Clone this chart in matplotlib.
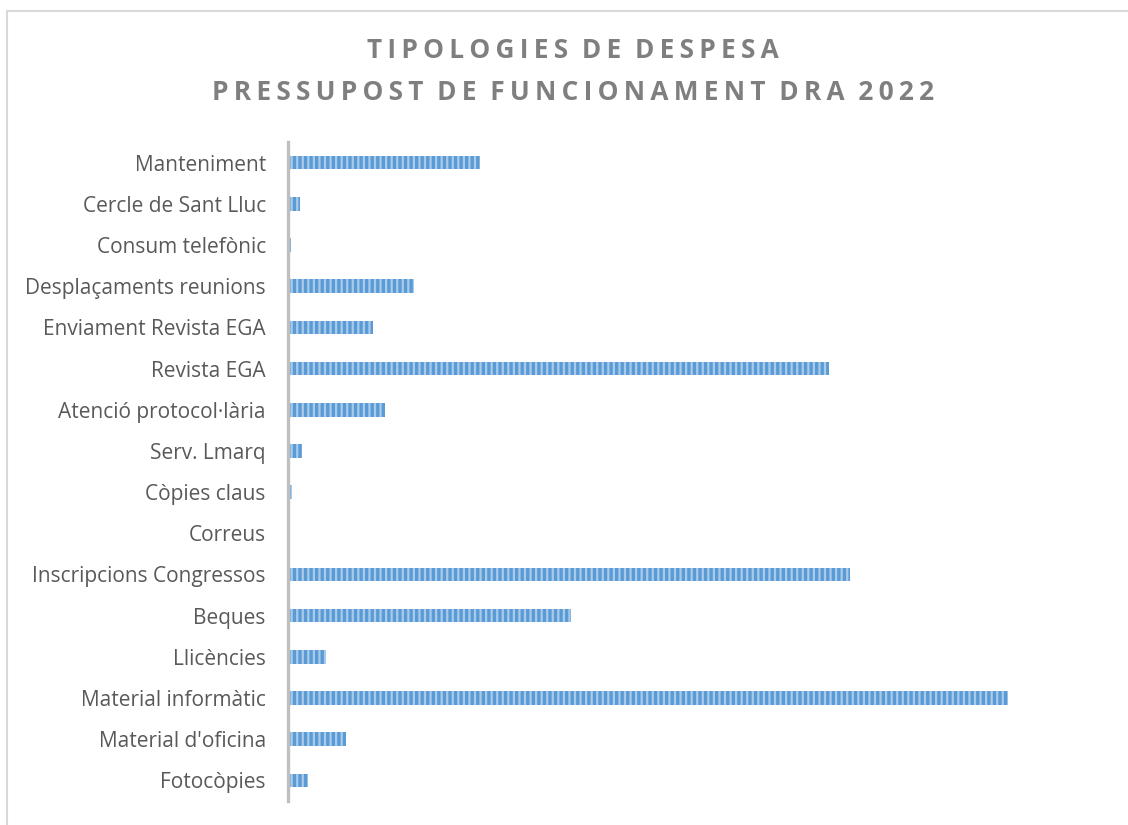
import matplotlib
matplotlib.use("Agg")
import matplotlib.pyplot as plt
from matplotlib.patches import Rectangle

# categories top -> bottom as in the chart
categories = ["Manteniment", "Cercle de Sant Lluc", "Consum telefònic",
              "Desplaçaments reunions", "Enviament Revista EGA", "Revista EGA",
              "Atenció protocol·lària", "Serv. Lmarq", "Còpies claus", "Correus",
              "Inscripcions Congressos", "Beques", "Llicències",
              "Material informàtic", "Material d'oficina", "Fotocòpies"]
values = [192, 12, 3, 126, 85, 541, 97, 14, 4, 0, 562, 283, 38, 720, 58, 20]

title_lines = ["TIPOLOGIES DE DESPESA", "PRESSUPOST DE FUNCIONAMENT DRA 2022"]

plt.rcParams["font.family"] = ["Open Sans", "DejaVu Sans"]
plt.rcParams["hatch.linewidth"] = 1.6

fig = plt.figure(figsize=(11.28, 8.25), dpi=100)
# outer chart frame
fig.patches.append(Rectangle((7 / 1128, -0.1), 1.2, 1 - 11 / 825 + 0.1, transform=fig.transFigure,
                             fill=False, edgecolor="#D9D9D9", linewidth=1.5))

ax = fig.add_axes([288 / 1128, 1 - 801 / 825, (1110 - 288) / 1128, (801 - 142) / 825])
y = list(range(len(categories)))[::-1]
ax.barh(y, values, height=0.33, color="#5B9BD5", edgecolor="#A9CBEB", hatch="|||", linewidth=0)
ax.set_ylim(-0.5, len(categories) - 0.5)
ax.set_xlim(0, 822)
ax.set_yticks(y)
ax.set_yticklabels(categories, fontsize=15, color="#595959")
ax.tick_params(axis="y", length=0, pad=16)
ax.set_xticks([])
for s in ["top", "right", "bottom"]:
    ax.spines[s].set_visible(False)
ax.spines["left"].set_color("#BFBFBF")
ax.spines["left"].set_linewidth(2.4)

sp = "\u2009"
for line, ypix in zip(title_lines, [51, 92]):
    fig.text(573 / 1128, 1 - ypix / 825, sp.join(line).replace(sp + " " + sp, "  "),
             ha="center", va="center", fontsize=18.9, fontweight="bold", color="#7F7F7F")

fig.savefig("out.png", dpi=100)
